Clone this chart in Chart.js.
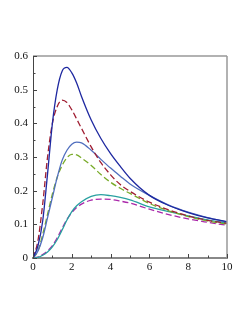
<!DOCTYPE html>
<html>
<head>
<meta charset="UTF-8">
<title>Curves</title>
<script src="https://cdn.jsdelivr.net/npm/chart.js"></script>
<style>
  html, body { margin: 0; padding: 0; background: #fff; }
  #wrap { width: 249px; height: 323px; }
</style>
</head>
<body>
<div id="wrap"><canvas id="grafico" width="249" height="323"></canvas></div>
<script>
// x positions where values were read
var xs = [0, 0.25, 0.5, 0.75, 1, 1.25, 1.5, 1.75, 2, 2.25, 2.5, 3, 3.5, 4, 4.5, 5, 6, 7, 8, 9, 10];

var azulEscuro = [0, 0.035, 0.11, 0.25, 0.40, 0.50, 0.555, 0.566, 0.55, 0.52, 0.48, 0.41, 0.355, 0.31, 0.272, 0.237, 0.186, 0.156, 0.135, 0.119, 0.108];
var vermelho   = [0, 0.05, 0.16, 0.30, 0.40, 0.45, 0.469, 0.462, 0.44, 0.413, 0.385, 0.33, 0.283, 0.247, 0.218, 0.198, 0.166, 0.143, 0.125, 0.112, 0.103];
var azulClaro  = [0, 0.02, 0.06, 0.12, 0.18, 0.24, 0.29, 0.32, 0.338, 0.344, 0.342, 0.32, 0.293, 0.267, 0.243, 0.22, 0.186, 0.157, 0.136, 0.12, 0.107];
var verde      = [0, 0.02, 0.07, 0.13, 0.19, 0.24, 0.275, 0.298, 0.308, 0.306, 0.297, 0.275, 0.248, 0.225, 0.207, 0.192, 0.162, 0.14, 0.123, 0.11, 0.101];
var ciano      = [0, 0.002, 0.008, 0.018, 0.033, 0.055, 0.083, 0.113, 0.138, 0.155, 0.167, 0.183, 0.188, 0.185, 0.18, 0.173, 0.152, 0.138, 0.125, 0.113, 0.104];
var magenta    = [0, 0.003, 0.01, 0.021, 0.037, 0.06, 0.088, 0.115, 0.135, 0.15, 0.16, 0.172, 0.175, 0.174, 0.169, 0.163, 0.145, 0.129, 0.116, 0.106, 0.097];

var ticksX = [0, 2, 4, 6, 8, 10];
var ticksY = [0, 0.1, 0.2, 0.3, 0.4, 0.5, 0.6];

function pontos(ys) {
  return xs.map(function (x, i) { return { x: x, y: ys[i] }; });
}

function serie(ys, cor, tracejado) {
  return {
    data: pontos(ys),
    borderColor: cor,
    borderWidth: 1.3,
    borderDash: tracejado ? [6, 3] : [],
    pointRadius: 0,
    fill: false,
    cubicInterpolationMode: 'monotone'
  };
}

// inward tick marks + frame
var moldura = {
  id: 'moldura',
  afterDraw: function (chart) {
    var ctx = chart.ctx, a = chart.chartArea;
    var sx = chart.scales.x, sy = chart.scales.y;
    ctx.save();
    ctx.strokeStyle = '#999';
    ctx.lineWidth = 1.5;
    ctx.beginPath();
    ctx.moveTo(a.left, a.top); ctx.lineTo(a.right, a.top);
    ctx.moveTo(a.right, a.top); ctx.lineTo(a.right, a.bottom);
    ctx.stroke();
    ctx.strokeStyle = '#444';
    ctx.lineWidth = 1;
    ctx.beginPath();
    for (var v = 0; v <= 10; v++) {
      var px = Math.round(sx.getPixelForValue(v)) + 0.5;
      var len = v % 2 === 0 ? 4 : 2.5;
      ctx.moveTo(px, a.bottom); ctx.lineTo(px, a.bottom - len);
    }
    for (var k = 0; k <= 12; k++) {
      var py = Math.round(sy.getPixelForValue(k * 0.05)) + 0.5;
      var l = k % 2 === 0 ? 4 : 2.5;
      ctx.moveTo(a.left, py); ctx.lineTo(a.left + l, py);
    }
    ctx.stroke();
    ctx.restore();
  }
};

var fonte = { family: '"Liberation Serif", "DejaVu Serif", serif', size: 11 };

new Chart(document.getElementById('grafico').getContext('2d'), {
  type: 'line',
  data: {
    datasets: [
      serie(azulEscuro, 'rgb(30,40,160)', false),
      serie(vermelho, 'rgb(160,30,50)', true),
      serie(azulClaro, 'rgb(80,110,190)', false),
      serie(verde, 'rgb(120,170,40)', true),
      serie(ciano, 'rgb(40,160,160)', false),
      serie(magenta, 'rgb(170,40,170)', true)
    ]
  },
  options: {
    responsive: false,
    animation: false,
    layout: { padding: { left: 0, top: 56, right: 22, bottom: 0 } },
    plugins: { legend: { display: false }, tooltip: { enabled: false } },
    scales: {
      x: {
        type: 'linear', min: 0, max: 10,
        grid: { display: false, drawTicks: false },
        border: { display: true, color: '#888', width: 2 },
        afterBuildTicks: function (s) { s.ticks = ticksX.map(function (v) { return { value: v }; }); },
        afterFit: function (s) { s.height = 65; },
        ticks: { color: '#111', font: fonte, padding: 3, maxRotation: 0 }
      },
      y: {
        min: 0, max: 0.6,
        grid: { display: false, drawTicks: false },
        border: { display: true, color: '#444', width: 1 },
        afterBuildTicks: function (s) { s.ticks = ticksY.map(function (v) { return { value: v }; }); },
        afterFit: function (s) { s.width = 33; },
        ticks: { color: '#111', font: fonte, padding: 5,
                 callback: function (v) { return String(Math.round(v * 10) / 10); } }
      }
    }
  },
  plugins: [moldura]
});
</script>
</body>
</html>
